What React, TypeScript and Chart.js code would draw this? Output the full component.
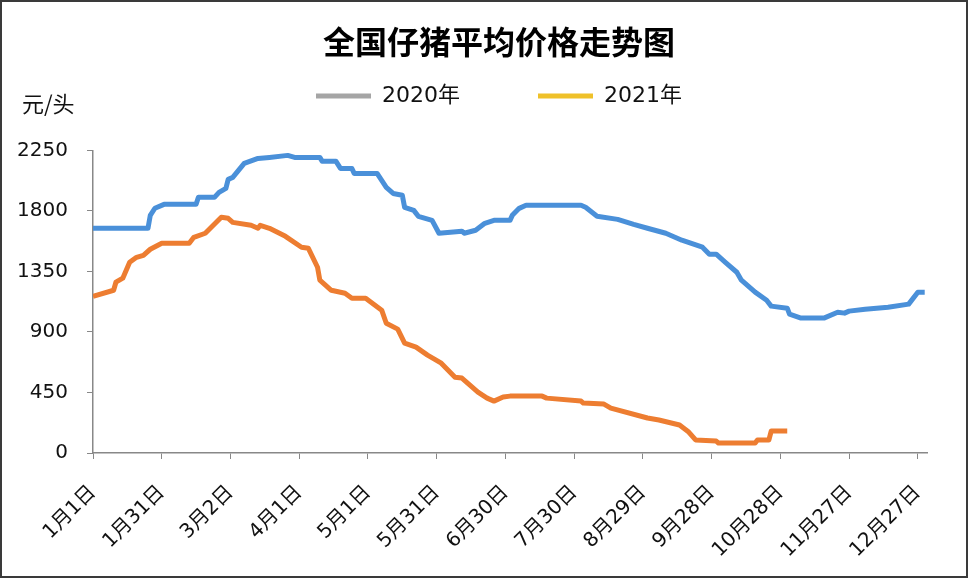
import React, { useEffect, useRef } from "react";
import { Chart, registerables } from "chart.js";

Chart.register(...registerables);

const chartTitle = "全国仔猪平均价格走势图";
const unitLabel = "元/头";
const seriesNames = ["2020年", "2021年"];
const legendColors = ["#A5A5A5", "#EFC12A"];
const lineColors = ["#4A90D9", "#ED7D31"];
const xTickLabels = [
  "1月1日", "1月31日", "3月2日", "4月1日", "5月1日", "5月31日", "6月30日",
  "7月30日", "8月29日", "9月28日", "10月28日", "11月27日", "12月27日",
];
const yTickValues = [0, 450, 900, 1350, 1800, 2250];

// day index from Jan 1 (0) and price (元/头)
const days2020 = [
  0, 24, 25, 27, 31, 45, 46, 53, 55, 58, 59, 61, 66, 72, 77, 85, 88, 99, 100, 106,
  108, 113, 114, 124, 128, 131, 135, 136, 140, 142, 148, 151, 161, 162, 167, 171,
  175, 182, 183, 186, 189, 213, 215, 220, 229, 236, 242, 250, 257, 266, 269, 272,
  276, 281, 283, 289, 294, 296, 303, 304, 309, 319, 325, 328, 330, 337, 347, 356,
  360, 363,
];
const price2020 = [
  1671, 1671, 1767, 1820, 1849, 1849, 1901, 1901, 1938, 1968, 2035, 2049, 2153, 2190,
  2198, 2213, 2198, 2198, 2170, 2170, 2116, 2116, 2079, 2079, 1975, 1930, 1916, 1827,
  1804, 1760, 1730, 1634, 1649, 1634, 1656, 1708, 1730, 1730, 1767, 1819, 1842, 1842,
  1827, 1760, 1737, 1700, 1671, 1634, 1582, 1530, 1478, 1478, 1418, 1344, 1285, 1196,
  1136, 1092, 1077, 1032, 1003, 1003, 1047, 1040, 1055, 1069, 1084, 1107, 1196, 1196,
];

const days2021 = [
  0, 9, 10, 13, 16, 19, 22, 25, 30, 42, 44, 49, 56, 59, 61, 69, 72, 73, 77, 84, 91,
  94, 98, 99, 104, 110, 113, 119, 126, 128, 133, 136, 141, 146, 152, 158, 161, 168,
  172, 175, 179, 182, 196, 198, 213, 214, 223, 226, 242, 247, 256, 260, 263, 272,
  273, 289, 290, 295, 296, 303,
];
const price2021 = [
  1165, 1210, 1270, 1300, 1418, 1455, 1470, 1515, 1560, 1560, 1604, 1634, 1753, 1745,
  1715, 1693, 1671, 1693, 1671, 1611, 1530, 1522, 1381, 1285, 1210, 1188, 1151, 1151,
  1062, 965, 921, 817, 787, 728, 668, 564, 557, 453, 408, 386, 416, 423, 423, 408, 386,
  371, 364, 334, 260, 245, 208, 156, 97, 89, 74, 74, 97, 97, 163, 163,
];

const FONT = '"DejaVu Sans", "Noto Sans CJK SC", sans-serif';
const CJK = '"Noto Sans CJK SC", "DejaVu Sans", sans-serif';

const unitPlugin = {
  id: "unitLabel",
  afterDraw(chart: any) {
    const ctx = chart.ctx;
    ctx.save();
    ctx.font = `22px ${CJK}`;
    ctx.fillStyle = "#111";
    ctx.textAlign = "left";
    ctx.textBaseline = "middle";
    ctx.fillText(unitLabel, 22, 104);
    ctx.restore();
  },
};

export default function App() {
  const ref = useRef<HTMLCanvasElement | null>(null);

  useEffect(() => {
    document.body.style.margin = "0";
    const canvas = ref.current;
    if (!canvas) return;
    const toPoints = (xs: number[], ys: number[]) => xs.map((x, i) => ({ x, y: ys[i] }));
    const chart = new Chart(canvas, {
      type: "line",
      data: {
        datasets: [
          {
            label: seriesNames[0],
            data: toPoints(days2020, price2020),
            borderColor: lineColors[0],
            backgroundColor: lineColors[0],
            borderWidth: 5,
            pointRadius: 0,
            tension: 0,
            borderJoinStyle: "round",
          },
          {
            label: seriesNames[1],
            data: toPoints(days2021, price2021),
            borderColor: lineColors[1],
            backgroundColor: lineColors[1],
            borderWidth: 5,
            pointRadius: 0,
            tension: 0,
            borderJoinStyle: "round",
          },
        ],
      },
      options: {
        responsive: false,
        animation: false,
        devicePixelRatio: 1,
        layout: { padding: { top: 7, left: 10, right: -20, bottom: 0 } },
        plugins: {
          tooltip: { enabled: false },
          title: {
            display: true,
            text: chartTitle,
            color: "#000",
            font: { family: CJK, size: 32, weight: "bold" },
            padding: { top: -94, bottom: 89 },
          },
          legend: {
            display: true,
            position: "top",
            weight: 3000,
            onClick: () => {},
            labels: {
              boxWidth: 55,
              boxHeight: 5,
              padding: 78,
              color: "#111",
              font: { family: FONT, size: 22 },
              generateLabels: () =>
                seriesNames.map((t, i) => ({
                  text: t,
                  fillStyle: legendColors[i],
                  strokeStyle: legendColors[i],
                  lineWidth: 0,
                  hidden: false,
                  datasetIndex: i,
                  fontColor: "#111",
                })),
            },
          },
        },
        scales: {
          x: {
            type: "linear",
            min: 0,
            max: 364,
            afterBuildTicks: (s: any) => {
              s.ticks = xTickLabels.map((_, i) => ({ value: i * 30 }));
            },
            afterFit: (s: any) => {
              s.height = 125;
            },
            ticks: {
              autoSkip: false,
              minRotation: 45,
              maxRotation: 45,
              padding: 22,
              color: "#111",
              font: { family: FONT, size: 20 },
              callback: (v: any) => xTickLabels[Math.round(Number(v) / 30)],
            },
            grid: { display: true, drawOnChartArea: false, drawTicks: true, tickLength: 6, color: "#888" },
            border: { display: true, color: "#888", width: 1.5 },
          },
          y: {
            min: 0,
            max: 2250,
            afterBuildTicks: (s: any) => {
              s.ticks = yTickValues.map((v) => ({ value: v }));
            },
            afterFit: (s: any) => {
              s.width = 83;
            },
            ticks: {
              padding: 19,
              color: "#111",
              font: { family: FONT, size: 20 },
              callback: (v: any) => String(v),
            },
            grid: { display: true, drawOnChartArea: false, drawTicks: true, tickLength: 6, color: "#888" },
            border: { display: true, color: "#888", width: 1.5 },
          },
          yRightSpace: {
            position: "right",
            display: true,
            min: 0,
            max: 1,
            afterFit: (s: any) => {
              s.width = 61;
            },
            ticks: { display: false },
            grid: { display: false, drawTicks: false },
            border: { display: false },
          },
        },
      },
      plugins: [unitPlugin],
    } as any);
    return () => chart.destroy();
  }, []);

  return (
    <div style={{ position: "relative", width: 968, height: 578, background: "#fff" }}>
      <canvas ref={ref} width={968} height={578} style={{ display: "block", width: 968, height: 578 }} />
      <div
        style={{
          position: "absolute",
          inset: 0,
          border: "2px solid #3a3a3a",
          pointerEvents: "none",
          boxSizing: "border-box",
        }}
      />
    </div>
  );
}
